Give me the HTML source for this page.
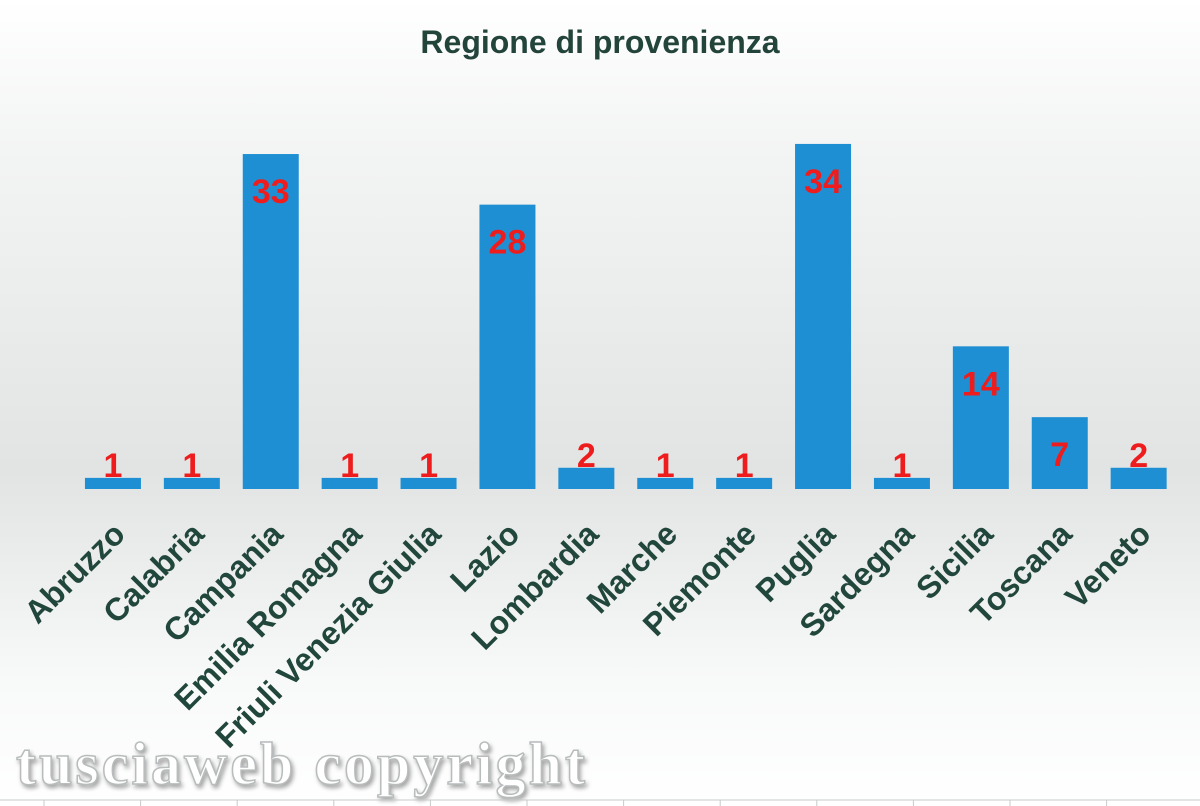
<!DOCTYPE html>
<html><head><meta charset="utf-8"><style>
html,body{margin:0;padding:0;width:1200px;height:806px;overflow:hidden}
body{background:linear-gradient(to bottom,#ffffff 0px,#f3f4f4 150px,#e2e4e4 470px,#e9ebeb 540px,#f8f9f9 680px,#ffffff 806px)}
</style></head><body>
<svg id="chart" width="1200" height="806" xmlns="http://www.w3.org/2000/svg" style="position:absolute;left:0;top:0">
<text x="600" y="53" text-anchor="middle" font-family="Liberation Sans, sans-serif" font-weight="bold" font-size="32" fill="#22443a">Regione di provenienza</text>
<g id="bars"></g>
<g id="labels"></g>
<text x="16" y="784" font-family="Liberation Serif, serif" font-weight="bold" font-size="60" letter-spacing="3" fill="#ffffff" stroke="#b8bcbc" stroke-width="1.5" style="filter:drop-shadow(2px 3px 2px rgba(0,0,0,0.35))">tusciaweb copyright</text>
<line x1="0" y1="800" x2="1200" y2="800" stroke="#c8cbcb" stroke-width="1"/>
<g id="ticks"></g>
</svg>
<script>
const categories=["Abruzzo","Calabria","Campania","Emilia Romagna","Friuli Venezia Giulia","Lazio","Lombardia","Marche","Piemonte","Puglia","Sardegna","Sicilia","Toscana","Veneto"];
const values=[1,1,33,1,1,28,2,1,1,34,1,14,7,2];
const NS="http://www.w3.org/2000/svg";
const plotLeft=73.5, catW=78.9, baseY=489, unit=10.12, barW=56;
const x=i=>plotLeft+catW*(i+0.5);
const y=v=>baseY-v*unit;
const bars=document.getElementById('bars'), labels=document.getElementById('labels'), ticks=document.getElementById('ticks');
values.forEach((v,i)=>{
  const r=document.createElementNS(NS,'rect');
  
  
  r.setAttribute('x',x(i)-barW/2); r.setAttribute('y',y(v)-1);
  r.setAttribute('width',barW); r.setAttribute('height',baseY-y(v)+1);
  r.setAttribute('fill','#1f8fd3');
  bars.appendChild(r);
  const t=document.createElementNS(NS,'text');
  
  
  const inside=v>=5;
  t.setAttribute('x',x(i)); t.setAttribute('y',inside? y(v)+48 : y(v)-2);
  t.setAttribute('text-anchor','middle');
  t.setAttribute('font-family','Liberation Sans, sans-serif');
  t.setAttribute('font-weight','bold'); t.setAttribute('font-size','34');
  t.setAttribute('fill','#ee1c1c');
  t.textContent=v;
  bars.appendChild(t);
  const c=document.createElementNS(NS,'text');
  
  
  const lx=x(i)+14, ly=536;
  c.setAttribute('x',lx); c.setAttribute('y',ly);
  c.setAttribute('text-anchor','end');
  c.setAttribute('transform','rotate(-45 '+lx+' '+ly+')');
  c.setAttribute('font-family','Liberation Sans, sans-serif');
  c.setAttribute('font-weight','bold'); c.setAttribute('font-size','32');
  c.setAttribute('fill','#21463b');
  c.textContent=categories[i];
  labels.appendChild(c);
});
for(let i=0;i<=12;i++){
  const l=document.createElementNS(NS,'line');
  
  
  const gx=44+i*96.6;
  l.setAttribute('x1',gx); l.setAttribute('x2',gx);
  l.setAttribute('y1',800); l.setAttribute('y2',806);
  l.setAttribute('stroke','#c8cbcb');
  ticks.appendChild(l);
}
</script>
</body></html>
